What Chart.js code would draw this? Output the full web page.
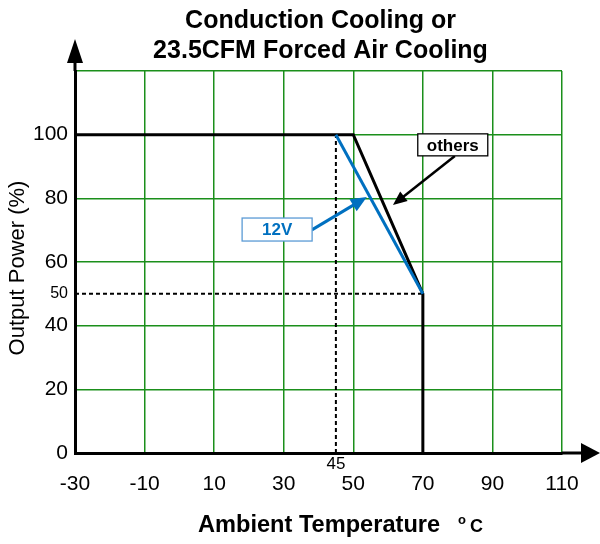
<!DOCTYPE html>
<html>
<head>
<meta charset="utf-8">
<script src="https://cdn.jsdelivr.net/npm/chart.js@4.4.1/dist/chart.umd.min.js"></script>
<style>
  body { margin: 0; background: #fff; }
  #wrap { width: 600px; height: 544px; }
</style>
</head>
<body>
<div id="wrap"><canvas id="derating"></canvas></div>
<script>
// derating curve, values
const xTicks = [-30, -10, 10, 30, 50, 70, 90, 110];
const yTicks = [0, 20, 40, 50, 60, 80, 100, 120];
const othersTemp = [-30, 50, 70, 70];
const othersLoad = [100, 100, 50, 0];
const v12Temp = [45, 70];
const v12Load = [100, 50];
const guideTemp = 45;   // dashed vertical
const guideLoad = 50;   // dashed horizontal
const titleLines = ["Conduction Cooling or", "23.5CFM Forced Air Cooling"];

const gridGreen = "#1b8f1b";
const blue = "#0070c0";
const FONT = 'Arial, "Liberation Sans", sans-serif';
Chart.defaults.font.family = FONT;

function pts(xs, ys) {
    return xs.map((x, i) => ({ x: x, y: ys[i] }));
}

// callout boxes, in data units
const othersNote = { text: "others", x: 78.6, y: 96.8, w: 70, h: 22, tail: [79.2, 93.3], tip: [61.4, 77.9] };
const v12Note = { text: "12V", x: 28.1, y: 70.2, w: 70, h: 23, tail: [38.1, 70.1], tip: [53.9, 80.4] };

function arrow(ctx, x1, y1, x2, y2, color, width, len, half) {
    const a = Math.atan2(y2 - y1, x2 - x1);
    ctx.strokeStyle = color;
    ctx.fillStyle = color;
    ctx.lineWidth = width;
    ctx.beginPath();
    ctx.moveTo(x1, y1);
    ctx.lineTo(x2 - Math.cos(a) * len * 0.8, y2 - Math.sin(a) * len * 0.8);
    ctx.stroke();
    ctx.beginPath();
    ctx.moveTo(x2, y2);
    ctx.lineTo(x2 - Math.cos(a) * len - Math.sin(a) * half, y2 - Math.sin(a) * len + Math.cos(a) * half);
    ctx.lineTo(x2 - Math.cos(a) * len + Math.sin(a) * half, y2 - Math.sin(a) * len - Math.cos(a) * half);
    ctx.closePath();
    ctx.fill();
}

const extras = {
    id: "extras",
    afterDraw(chart) {
        const ctx = chart.ctx;
        const xs = chart.scales.x, ys = chart.scales.y;
        const area = chart.chartArea;
        ctx.save();

        // title
        ctx.fillStyle = "#000";
        ctx.textAlign = "center";
        ctx.textBaseline = "alphabetic";
        ctx.font = "bold 25px " + FONT;
        const cx = (area.left + area.right) / 2 + 2;
        ctx.fillText(titleLines[0], cx, 28);
        ctx.fillText(titleLines[1], cx, 58);

        // axis arrows
        ctx.strokeStyle = "#000";
        ctx.fillStyle = "#000";
        ctx.lineWidth = 3;
        ctx.beginPath();
        ctx.moveTo(area.left, area.top);
        ctx.lineTo(area.left, 63);
        ctx.moveTo(area.right, area.bottom);
        ctx.lineTo(581, area.bottom);
        ctx.stroke();
        ctx.beginPath();
        ctx.moveTo(area.left - 8, 63);
        ctx.lineTo(area.left + 8, 63);
        ctx.lineTo(area.left, 39);
        ctx.closePath();
        ctx.fill();
        ctx.beginPath();
        ctx.moveTo(581, area.bottom - 10);
        ctx.lineTo(581, area.bottom + 10);
        ctx.lineTo(600, area.bottom);
        ctx.closePath();
        ctx.fill();

        // small 45 label above the x ticks
        ctx.font = "17px " + FONT;
        ctx.textBaseline = "middle";
        ctx.fillText(String(guideTemp), xs.getPixelForValue(guideTemp), 464);

        // axis titles
        ctx.save();
        ctx.translate(18, 268);
        ctx.rotate(-Math.PI / 2);
        ctx.font = "22px " + FONT;
        ctx.fillText("Output Power (%)", 0, 0);
        ctx.restore();

        ctx.textAlign = "left";
        ctx.textBaseline = "alphabetic";
        ctx.font = "bold 23.6px " + FONT;
        ctx.fillText("Ambient Temperature", 198, 532);
        ctx.font = "bold 13px " + FONT;
        ctx.fillText("o", 458, 524);
        ctx.font = "bold 18px " + FONT;
        ctx.fillText("C", 470, 532);

        // callouts
        [[othersNote, "#000", "#000", "#000", 2.5, 14, 6], [v12Note, blue, "#5b9bd5", blue, 3, 16, 7]].forEach(n => {
            const note = n[0];
            const bx = xs.getPixelForValue(note.x), by = ys.getPixelForValue(note.y);
            arrow(ctx, xs.getPixelForValue(note.tail[0]), ys.getPixelForValue(note.tail[1]),
                xs.getPixelForValue(note.tip[0]), ys.getPixelForValue(note.tip[1]), n[3], n[4], n[5], n[6]);
            ctx.fillStyle = "#fff";
            ctx.fillRect(bx - note.w / 2, by - note.h / 2, note.w, note.h);
            ctx.strokeStyle = n[2];
            ctx.lineWidth = 1.3;
            ctx.strokeRect(bx - note.w / 2, by - note.h / 2, note.w, note.h);
            ctx.fillStyle = n[1];
            ctx.font = "bold 17px " + FONT;
            ctx.textAlign = "center";
            ctx.textBaseline = "middle";
            ctx.fillText(note.text, bx, by + 1);
        });

        ctx.restore();
    }
};

new Chart(document.getElementById("derating"), {
    type: "scatter",
    data: {
        datasets: [
            { label: "12V", data: pts(v12Temp, v12Load), borderColor: blue, borderWidth: 3 },
            { label: "others", data: pts(othersTemp, othersLoad), borderColor: "#000", borderWidth: 3 },
            { label: "guide h", data: pts([xTicks[0], othersTemp[2]], [guideLoad, guideLoad]), borderColor: "#000", borderWidth: 2, borderDash: [4, 3] },
            { label: "guide v", data: pts([guideTemp, guideTemp], [0, v12Load[0]]), borderColor: "#000", borderWidth: 2, borderDash: [4, 3] }
        ]
    },
    options: {
        responsive: true,
        maintainAspectRatio: false,
        animation: false,
        showLine: true,
        elements: { point: { radius: 0 }, line: { tension: 0, borderCapStyle: "butt" } },
        layout: { padding: { top: 71, right: 38, left: 0, bottom: 0 } },
        plugins: { legend: { display: false }, tooltip: { enabled: false } },
        scales: {
            x: {
                type: "linear",
                min: xTicks[0],
                max: xTicks[xTicks.length - 1],
                afterBuildTicks: s => { s.ticks = xTicks.map(v => ({ value: v })); },
                afterFit: s => { s.height = 91; s.paddingLeft = 0; s.paddingRight = 0; },
                ticks: { padding: 19, color: "#000", font: { size: 21 }, autoSkip: false, maxRotation: 0, callback: v => String(v) },
                grid: { color: gridGreen, lineWidth: 1.5, drawTicks: false },
                border: { color: "#000", width: 3 }
            },
            y: {
                min: yTicks[0],
                max: yTicks[yTicks.length - 1],
                afterBuildTicks: s => { s.ticks = yTicks.map(v => ({ value: v })); },
                afterFit: s => { s.width = 75; s.paddingTop = 0; s.paddingBottom = 0; },
                ticks: {
                    padding: 7,
                    color: "#000",
                    autoSkip: false,
                    font: c => ({ size: c.tick && c.tick.value === guideLoad ? 16 : 21 }),
                    callback: v => v === 120 ? "" : String(v)
                },
                grid: {
                    color: c => c.tick && c.tick.value === guideLoad ? "rgba(0,0,0,0)" : gridGreen,
                    lineWidth: 1.5,
                    drawTicks: false
                },
                border: { color: "#000", width: 3 }
            }
        }
    },
    plugins: [extras]
});
</script>
</body>
</html>
